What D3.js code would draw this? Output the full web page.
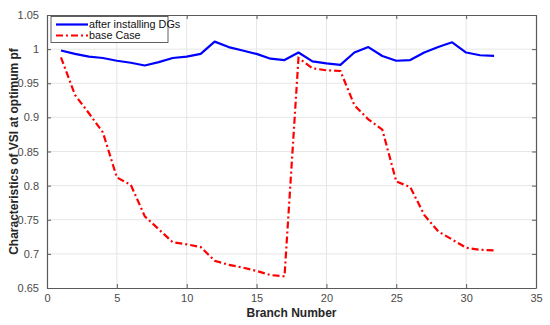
<!DOCTYPE html>
<html><head><meta charset="utf-8">
<script src="https://cdn.jsdelivr.net/npm/d3@7"></script>
<style>body{margin:0;background:#fff}svg{display:block}text{font-family:"Liberation Sans",Arial,sans-serif}</style>
</head><body><svg id="c" width="550" height="325"></svg>
<script>
const branches = d3.range(1, 33);
const afterDG = [0.998,0.993,0.989,0.987,0.983,0.980,0.976,0.981,0.987,0.989,0.993,1.011,1.003,0.998,0.993,0.986,0.984,0.995,0.982,0.979,0.977,0.995,1.003,0.990,0.983,0.984,0.995,1.003,1.010,0.995,0.991,0.990];
const baseCase = [0.988,0.933,0.906,0.878,0.812,0.801,0.755,0.736,0.717,0.714,0.710,0.690,0.684,0.680,0.675,0.669,0.667,0.987,0.972,0.969,0.968,0.918,0.897,0.882,0.806,0.798,0.757,0.733,0.721,0.709,0.706,0.705];
const xTicks = [0,5,10,15,20,25,30,35];
const yTicks = [0.65,0.7,0.75,0.8,0.85,0.9,0.95,1,1.05];
const seriesNames = ["after installing DGs","base Case"];

const svg = d3.select("#c");
const L=47,R=536,T=15,B=288;
const x = d3.scaleLinear().domain([0,35]).range([L,R]);
const y = d3.scaleLinear().domain([0.65,1.05]).range([B,T]);

// grid
svg.append("g").selectAll("line").data(xTicks.slice(1,-1)).join("line")
  .attr("x1",d=>x(d)).attr("x2",d=>x(d)).attr("y1",T).attr("y2",B)
  .attr("stroke","#e6e6e6").attr("stroke-width",1);
svg.append("g").selectAll("line").data(yTicks.slice(1,-1)).join("line")
  .attr("y1",d=>y(d)).attr("y2",d=>y(d)).attr("x1",L).attr("x2",R)
  .attr("stroke","#e6e6e6").attr("stroke-width",1);

const fmt = d => d===1 ? "1" : String(d);
const axB = svg.append("g").attr("transform",`translate(0,${B})`).call(d3.axisBottom(x).tickValues(xTicks).tickSizeInner(-4).tickSizeOuter(0).tickPadding(6));
const axT = svg.append("g").attr("transform",`translate(0,${T})`).call(d3.axisTop(x).tickValues(xTicks).tickSizeInner(-4).tickSizeOuter(0).tickFormat(""));
const axL = svg.append("g").attr("transform",`translate(${L},0)`).call(d3.axisLeft(y).tickValues(yTicks).tickSizeInner(-4).tickSizeOuter(0).tickPadding(8).tickFormat(fmt));
const axR = svg.append("g").attr("transform",`translate(${R},0)`).call(d3.axisRight(y).tickValues(yTicks).tickSizeInner(-4).tickSizeOuter(0).tickFormat(""));
[axB,axT,axL,axR].forEach(a=>{
  a.selectAll("path").attr("stroke","#5a5a5a").attr("stroke-width",1.2);
  a.selectAll("line").attr("stroke","#5a5a5a");
  a.selectAll("text").attr("fill","#4a4a4a").style("font-size","11px").style("font-family","'Liberation Sans',Arial,sans-serif");
});

const line = d3.line().x((d,i)=>x(branches[i])).y(d=>y(d));
svg.append("path").datum(afterDG).attr("d",line).attr("fill","none")
  .attr("stroke","#0000ff").attr("stroke-width",2.2).attr("stroke-linejoin","round");
svg.append("path").datum(baseCase).attr("d",line).attr("fill","none")
  .attr("stroke","#ff0000").attr("stroke-width",2.2).attr("stroke-dasharray","7,3,2,3");

// legend
const lg = svg.append("g");
lg.append("rect").attr("x",51).attr("y",16.5).attr("width",117).attr("height",26)
  .attr("fill","#fff").attr("stroke","#3a3a3a").attr("stroke-width",0.8);
const colors=["#0000ff","#ff0000"], dashes=[null,"7,3,2,3"];
seriesNames.forEach((n,i)=>{
  const yy = 24.5 + i*11;
  lg.append("line").attr("x1",56).attr("x2",88).attr("y1",yy).attr("y2",yy)
    .attr("stroke",colors[i]).attr("stroke-width",2.2).attr("stroke-dasharray",dashes[i]);
  lg.append("text").attr("x",89).attr("y",yy+3.8).text(n).attr("fill","#111").style("font-size","10.8px");
});

svg.append("text").attr("x",(L+R)/2).attr("y",317).attr("text-anchor","middle")
  .style("font-size","12px").style("font-weight","bold").attr("fill","#262626").text("Branch Number");
svg.append("text").attr("transform",`translate(18,${(T+B)/2}) rotate(-90)`).attr("text-anchor","middle")
  .style("font-size","12px").style("font-weight","bold").attr("fill","#262626").text("Characteristics of VSI at optimum pf");
</script></body></html>
